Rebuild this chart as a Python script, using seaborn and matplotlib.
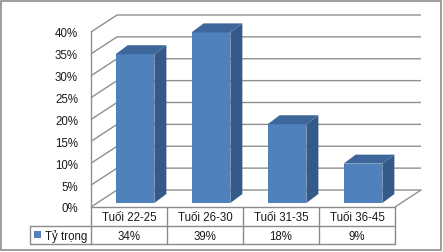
import matplotlib
matplotlib.use("Agg")
import matplotlib.pyplot as plt
import matplotlib.transforms as mtrans
from matplotlib.patches import Polygon, Rectangle
import seaborn as sns
import pandas as pd

categories = ["Tuối 22-25", "Tuối 26-30", "Tuối 31-35", "Tuối 36-45"]
values = [34, 39, 18, 9]
series_name = "Tỷ trọng"
tick_values = [0, 5, 10, 15, 20, 25, 30, 35, 40]

sns.set_style("white")
plt.rcParams["font.family"] = ["Liberation Sans", "DejaVu Sans"]

W, H = 443, 253
fig = plt.figure(figsize=(W / 100, H / 100), dpi=100)
fig.patch.set_facecolor("white")

# overlay in pixel coords (y down)
tab = fig.add_axes([0, 0, 1, 1])
tab.set_xlim(0, W)
tab.set_ylim(H, 0)
tab.axis("off")
tab.set_zorder(0)

ax = fig.add_axes([91 / W, (H - 208) / H, 304 / W, 175 / H])
ax.set_zorder(1)
ax.patch.set_alpha(0)

df = pd.DataFrame({"cat": categories, "val": [v / 100 for v in values]})
sns.barplot(data=df, x="cat", y="val", width=0.51, color="#4F81BD",
            saturation=1, ax=ax, zorder=3)
ax.set_xlim(-0.5, 3.5)
ax.set_ylim(0, 0.40)

# pixel -> data scale
o = ax.transData.transform((0, 0))
sx = ax.transData.transform((1, 0))[0] - o[0]
sy = ax.transData.transform((0, 1))[1] - o[1]

grid_c = "#8f8f8f"
gx, gy = 26 / sx, 17 / sy
for t in tick_values:
    y = t / 100
    ax.plot([-0.5, -0.5 + gx, 3.5 + gx], [y, y + gy, y + gy], color=grid_c,
            lw=1.0, clip_on=False, zorder=1, solid_capstyle="butt")
ax.plot([-0.5, -0.5], [0, 0.40], color=grid_c, lw=1.0, clip_on=False, zorder=1)
ax.plot([3.5, 3.5 + gx], [0, gy], color=grid_c, lw=1.0, clip_on=False, zorder=1)

# 3D bars
bx, by = 6 / sx, 4 / sy
dx, dy = 12 / sx, 9 / sy
for p in ax.patches:
    x0, w, h = p.get_x(), p.get_width(), p.get_height()
    p.set_x(x0 + bx)
    p.set_y(by)
    p.set_edgecolor("none")
    x0 += bx
    x1 = x0 + w
    top = by + h
    side = Polygon([(x1, by), (x1, top), (x1 + dx, top + dy), (x1 + dx, by + dy)],
                   closed=True, facecolor="#355A8A", edgecolor="none",
                   zorder=3, clip_on=False)
    topp = Polygon([(x0, top), (x1, top), (x1 + dx, top + dy), (x0 + dx, top + dy)],
                   closed=True, facecolor="#3D679B", edgecolor="none",
                   zorder=3, clip_on=False)
    ax.add_patch(side)
    ax.add_patch(topp)

ax.set_yticks([t / 100 for t in tick_values])
ax.set_yticklabels([f"{t}%" for t in tick_values], fontsize=8.3, color="#1a1a1a")
ax.tick_params(axis="y", length=0, pad=9.4)
ax.set_xticks([])
ax.set_xlabel("")
ax.set_ylabel("")
for s in ax.spines.values():
    s.set_visible(False)

# data table
blend = mtrans.blended_transform_factory(ax.transData, tab.transData)
tcol = "#8a8a8a"
r0, r1, r2 = 208, 227, 245
ax_l, ax_r = -0.5, 3.5
tab.plot([ax_l, ax_r], [r0, r0], color=tcol, lw=1.0, transform=blend, clip_on=False)
tab.plot([30, 91], [r1, r1], color=tcol, lw=1.0)
tab.plot([30, 91], [r2, r2], color=tcol, lw=1.0)
tab.plot([30, 30], [r1, r2], color=tcol, lw=1.0)
tab.plot([ax_l, ax_r], [r1, r1], color=tcol, lw=1.0, transform=blend, clip_on=False)
tab.plot([ax_l, ax_r], [r2, r2], color=tcol, lw=1.0, transform=blend, clip_on=False)
for i in range(len(categories) + 1):
    xb = i - 0.5
    tab.plot([xb, xb], [r0, r2], color=tcol, lw=1.0, transform=blend, clip_on=False)
for i, (c, v) in enumerate(zip(categories, values)):
    tab.text(i, (r0 + r1) / 2 + 1, c, transform=blend, ha="center", va="center",
             fontsize=8.3, color="#1a1a1a")
    tab.text(i, (r1 + r2) / 2 + 1, f"{v}%", transform=blend, ha="center",
             va="center", fontsize=8.3, color="#1a1a1a")
tab.add_patch(Rectangle((34, 232), 7, 7, facecolor="#4F81BD", edgecolor="none"))
tab.text(45, (r1 + r2) / 2 + 1, series_name, ha="left", va="center",
         fontsize=8.3, color="#1a1a1a")

# outer border
tab.add_patch(Rectangle((1.5, 1.5), 439.5, 249.5, facecolor="none",
                        edgecolor="#8c8c8c", lw=1.2))

fig.savefig("out.png", dpi=100, facecolor="white")
